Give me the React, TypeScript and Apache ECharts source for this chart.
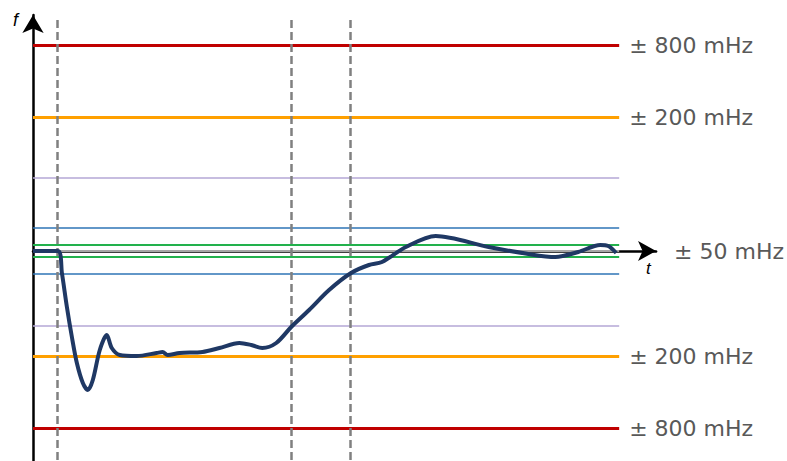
import React, { useEffect, useRef } from "react";
import * as echarts from "echarts";

// Schematic units: x = time (arbitrary), y = frequency deviation (schematic, 0 = nominal)
const timeValues = [0, 25, 29, 34, 39, 44, 50, 55, 60, 67, 74, 79, 87, 104, 124, 130, 135, 147, 170, 187, 207, 219, 230, 244, 259, 277, 297, 319, 337, 350, 374, 404, 457, 497, 524, 547, 569, 577, 585];
const freqValues = [0, 0, -22, -56, -86, -112, -132, -139, -129, -99, -84, -97, -104, -105, -102, -101, -104, -102, -101, -97, -92, -94, -97, -92, -76, -59, -39, -22, -14, -11, 4, 15, 4, -3, -6, -1, 6, 5, -2];

const levelLabels = ["± 800 mHz", "± 200 mHz", "", "", ""];
const upperLevels = [206, 134, 73, 23, 6];
const lowerLevels = [-177, -105, -75, -23, -6];
const levelColors = ["#C00000", "#FFA000", "#B4A7D6", "#2E75B6", "#22B14C"];
const levelWidths = [3, 3, 1.5, 1.5, 2];

const eventTimes = [24, 259, 318];
const centerLabel = "± 50 mHz";
const levelEnd = 588;

export default function App() {
  const ref = useRef<HTMLDivElement>(null);
  useEffect(() => {
    if (!ref.current) return;
    const chart = echarts.init(ref.current, undefined, { renderer: "svg" });
    const textColor = "#595959";
    const font = "DejaVu Sans, sans-serif";

    const levelLines: any[] = [];
    [upperLevels, lowerLevels].forEach((arr) => {
      arr.forEach((v, i) => {
        levelLines.push([
          {
            coord: [0, v],
            lineStyle: { color: levelColors[i], width: levelWidths[i], type: "solid" },
            label: levelLabels[i]
              ? {
                  show: true,
                  position: "end",
                  distance: 10,
                  formatter: levelLabels[i],
                  color: textColor,
                  fontSize: 22,
                  fontFamily: font,
                }
              : { show: false },
          },
          { coord: [levelEnd, v] },
        ]);
      });
    });
    levelLines.push([
      { coord: [0, 0], lineStyle: { color: "#A6A6A6", width: 2, type: "solid" }, label: { show: false } },
      { coord: [levelEnd, 0] },
    ]);
    eventTimes.forEach((t) => {
      levelLines.push([
        { coord: [t, 231], lineStyle: { color: "#808080", width: 2.5, type: [8, 4] }, label: { show: false } },
        { coord: [t, -210] },
      ]);
    });

    chart.setOption({
      animation: false,
      backgroundColor: "#ffffff",
      grid: { left: 33, top: 15, width: 625, height: 446, containLabel: false },
      xAxis: {
        type: "value",
        min: 0,
        max: 625,
        axisLine: {
          show: true,
          symbol: ["none", "arrow"],
          symbolSize: [15, 18],
          lineStyle: { color: "#000", width: 2.5 },
        },
        axisTick: { show: false },
        axisLabel: { show: false },
        splitLine: { show: false },
        name: centerLabel,
        nameLocation: "end",
        nameGap: 18,
        nameTextStyle: { color: textColor, fontSize: 22, fontFamily: font, padding: [8, 0, 0, 0] },
      },
      yAxis: {
        type: "value",
        min: -210,
        max: 236,
        axisLine: {
          show: true,
          symbol: ["none", "arrow"],
          symbolSize: [16, 18],
          lineStyle: { color: "#000", width: 2.5 },
        },
        axisTick: { show: false },
        axisLabel: { show: false },
        splitLine: { show: false },
      },
      graphic: [
        {
          type: "text",
          left: 13,
          top: 11,
          style: { text: "f", font: "italic 18px Liberation Sans, Arial, sans-serif", fill: "#000" },
        },
        {
          type: "text",
          left: 646,
          top: 260,
          style: { text: "t", font: "italic 17px Liberation Sans, Arial, sans-serif", fill: "#000" },
        },
      ],
      series: [
        {
          type: "line",
          data: [],
          z: 1,
          markLine: { symbol: ["none", "none"], silent: true, animation: false, data: levelLines },
        },
        {
          type: "line",
          z: 5,
          data: timeValues.map((t, i) => [t, freqValues[i]]),
          smooth: 0.3,
          showSymbol: false,
          lineStyle: { color: "#1F3864", width: 4 },
        },
      ],
    });
    return () => chart.dispose();
  }, []);
  return <div ref={ref} style={{ width: 787, height: 461, position: "absolute", left: 0, top: 0 }} />;
}
